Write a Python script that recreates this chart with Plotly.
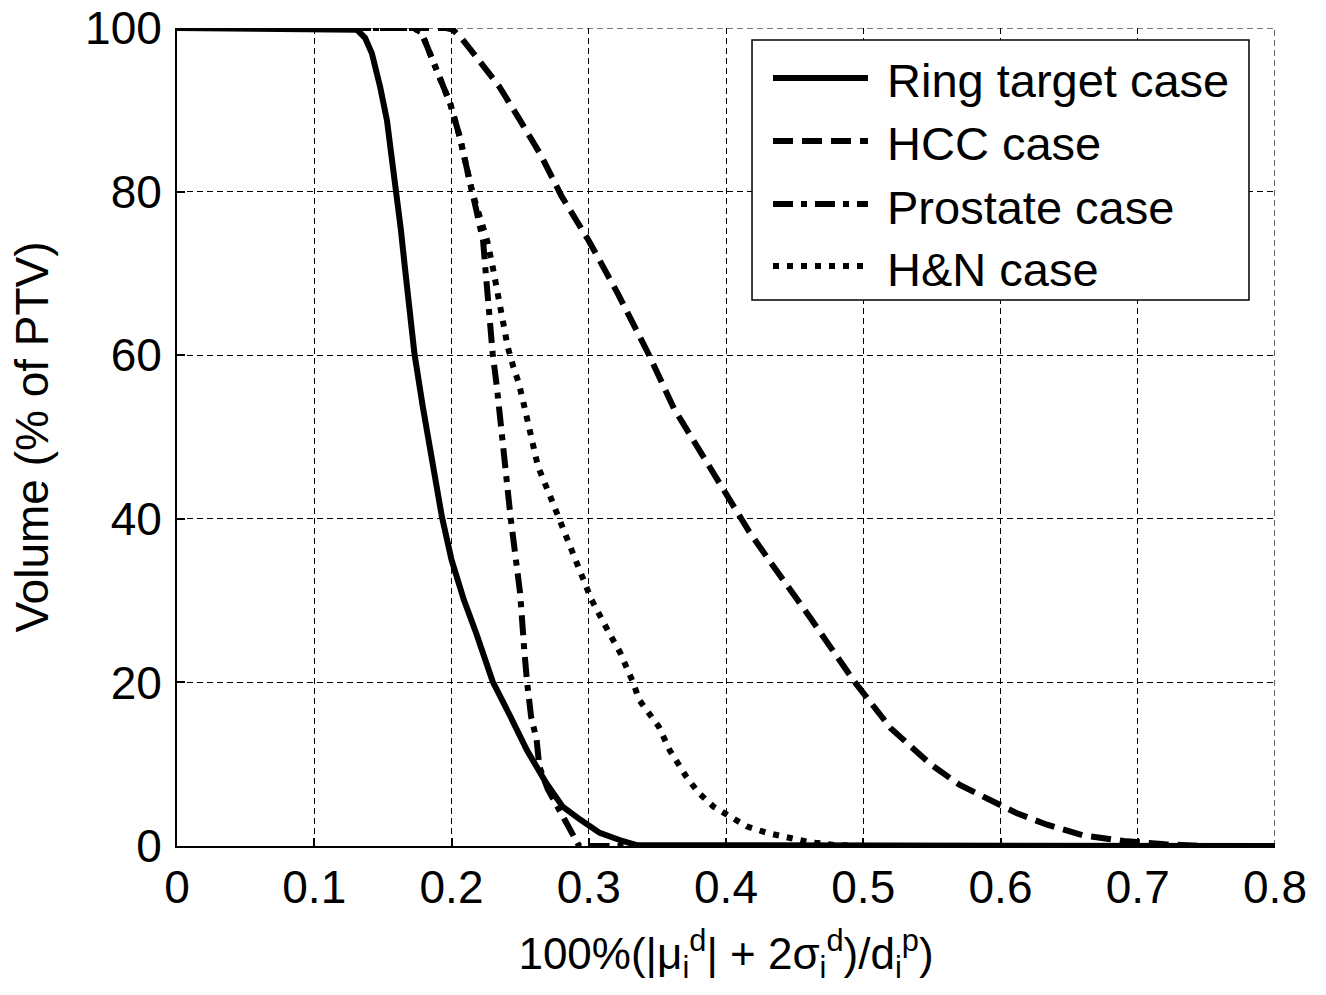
import plotly.graph_objects as go

# ---- data ----
ring_x = [0, 0.131, 0.137, 0.142, 0.148, 0.153, 0.156, 0.160, 0.163, 0.166, 0.1695, 0.173, 0.179,
          0.186, 0.193, 0.200, 0.209, 0.218, 0.230, 0.243, 0.255, 0.269, 0.281, 0.294, 0.308,
          0.323, 0.335, 0.800]
ring_v = [100, 99.8, 98.8, 96.9, 92.8, 88.7, 84.7, 80, 75.5, 70.8, 65.3, 60.2, 53.8,
          46.6, 40.25, 35, 30.1, 26, 20.1, 15.8, 11.7, 7.7, 4.8, 3.2, 1.6,
          0.7, 0.1, 0]

hcc_x = [0, 0.196, 0.201, 0.208, 0.216, 0.225, 0.235, 0.250, 0.265, 0.280, 0.300, 0.321, 0.344,
         0.362, 0.385, 0.408, 0.417, 0.432, 0.447, 0.461, 0.477, 0.494, 0.520, 0.549, 0.570,
         0.592, 0.612, 0.634, 0.660, 0.690, 0.720, 0.750, 0.800]
hcc_v = [100, 100, 99.8, 98.6, 96.9, 95, 92.8, 88.7, 84.5, 79.5, 74, 67.6, 60,
         53.5, 47.1, 41, 38.4, 34.8, 31.4, 28, 24.1, 20, 14.4, 10, 7.5,
         5.6, 4, 2.6, 1.3, 0.6, 0.2, 0, 0]

pro_x = [0, 0.172, 0.178, 0.184, 0.189, 0.199, 0.206, 0.211, 0.215, 0.218, 0.223, 0.226, 0.228,
         0.230, 0.233, 0.234, 0.239, 0.243, 0.250, 0.251, 0.253, 0.255, 0.258, 0.262, 0.264,
         0.270, 0.278, 0.285, 0.290, 0.293, 0.800]
pro_v = [100, 100, 99.5, 96.9, 94.9, 90.8, 86.7, 82.6, 80, 77.8, 74, 68, 62.7,
         60.2, 56.2, 54.5, 46.4, 40.25, 30.9, 28, 24, 20.1, 15.8, 13, 9.7,
         7, 4.5, 2.5, 1, 0, 0]

hn_x = [0, 0.172, 0.178, 0.184, 0.189, 0.199, 0.206, 0.211, 0.215, 0.219, 0.226, 0.230, 0.235,
        0.238, 0.241, 0.245, 0.249, 0.252, 0.257, 0.263, 0.273, 0.279, 0.285, 0.291, 0.297,
        0.302, 0.315, 0.323, 0.332, 0.337, 0.351, 0.359, 0.371, 0.380, 0.391, 0.403, 0.415,
        0.430, 0.444, 0.460, 0.480, 0.500, 0.800]
hn_v = [100, 100, 99.5, 96.9, 94.9, 90.8, 86.7, 82.6, 80, 77.8, 74, 70.8, 66,
        63.5, 61, 58.6, 56.6, 54.5, 50.5, 46.4, 42.3, 39.85, 37, 34.6, 32.1,
        30.1, 26, 23.6, 20.1, 17.8, 14.6, 11.7, 8.5, 6.5, 4.8, 3.6, 2.4,
        1.6, 1.0, 0.5, 0.1, 0, 0]

names = ["Ring target case", "HCC case", "Prostate case", "H&N case"]
dashes = ["solid", "20px,9px", "20px,8px,6px,8px", "6px,8px"]
x_ticks = [0, 0.1, 0.2, 0.3, 0.4, 0.5, 0.6, 0.7, 0.8]
x_tick_text = ["0", "0.1", "0.2", "0.3", "0.4", "0.5", "0.6", "0.7", "0.8"]
y_ticks = [0, 20, 40, 60, 80, 100]

FONT = "Liberation Sans, Arial, sans-serif"
GRID_DASH = "6px,4px"
LW = 6
fig = go.Figure()
series = [(ring_x, ring_v), (hcc_x, hcc_v), (pro_x, pro_v), (hn_x, hn_v)]
for (xs, vs), dash, nm in zip(series, dashes, names):
    fig.add_trace(go.Scatter(x=xs, y=vs, mode="lines", name=nm, showlegend=False,
                             line=dict(color="black", width=LW, dash=dash)))

axis_common = dict(showline=True, linecolor="black", linewidth=2, ticks="inside",
                   ticklen=8, tickcolor="black", tickwidth=1.5,
                   showgrid=True, gridcolor="black", gridwidth=1, griddash=GRID_DASH,
                   zeroline=False, ticklabeloverflow="allow",
                   tickfont=dict(family=FONT, size=46, color="black"))

fig.update_xaxes(range=[0, 0.8], tickvals=x_ticks, ticktext=x_tick_text,
                 ticklabelstandoff=0,
                 title=dict(text="100%(|μ<sub>i</sub><sup>d</sup>| + 2σ<sub>i</sub><sup>d</sup>)/d<sub>i</sub><sup>p</sup>)",
                            font=dict(family=FONT, size=44, color="black"), standoff=26),
                 **axis_common)
fig.update_yaxes(range=[0, 100], tickvals=y_ticks, ticklabelstandoff=4,
                 title=dict(text="Volume (% of PTV)", font=dict(family=FONT, size=46, color="black"),
                            standoff=22),
                 **axis_common)

# dashed grid lines on the top and right edges of the axes box
fig.add_shape(type="line", xref="x", yref="y", x0=0, x1=0.8, y0=100, y1=100,
              line=dict(color="black", width=1, dash=GRID_DASH), layer="below")
fig.add_shape(type="line", xref="x", yref="y", x0=0.8, x1=0.8, y0=0, y1=100,
              line=dict(color="black", width=1.2, dash=GRID_DASH), layer="below")

# legend box (MATLAB style), in axes-domain coordinates
LEG_X0, LEG_X1, LEG_Y0, LEG_Y1 = 0.5237, 0.9763, 0.6675, 0.9853
SYM_X0, SYM_X1, TXT_X = 0.5428, 0.6293, 0.6448
ROWS_Y = [0.9389, 0.8619, 0.7848, 0.7090]
fig.add_shape(type="rect", xref="x domain", yref="y domain",
              x0=LEG_X0, x1=LEG_X1, y0=LEG_Y0, y1=LEG_Y1,
              line=dict(color="black", width=1.5), fillcolor="white", layer="above")
for nm, dash, ry in zip(names, dashes, ROWS_Y):
    fig.add_shape(type="line", xref="x domain", yref="y domain",
                  x0=SYM_X0, x1=SYM_X1, y0=ry, y1=ry,
                  line=dict(color="black", width=LW, dash=dash), layer="above")
    fig.add_annotation(xref="x domain", yref="y domain", x=TXT_X, y=ry, text=nm,
                       showarrow=False, xanchor="left", yanchor="middle", yshift=-3,
                       font=dict(family=FONT, size=47, color="black"))

fig.update_layout(
    width=1326, height=995,
    margin=dict(l=177, r=51, t=28, b=149, autoexpand=False),
    paper_bgcolor="white", plot_bgcolor="white",
    showlegend=False,
)

fig.write_html("out.html", config={"displayModeBar": False},
               post_script="document.body.style.margin='0px';document.body.style.overflow='hidden';")
